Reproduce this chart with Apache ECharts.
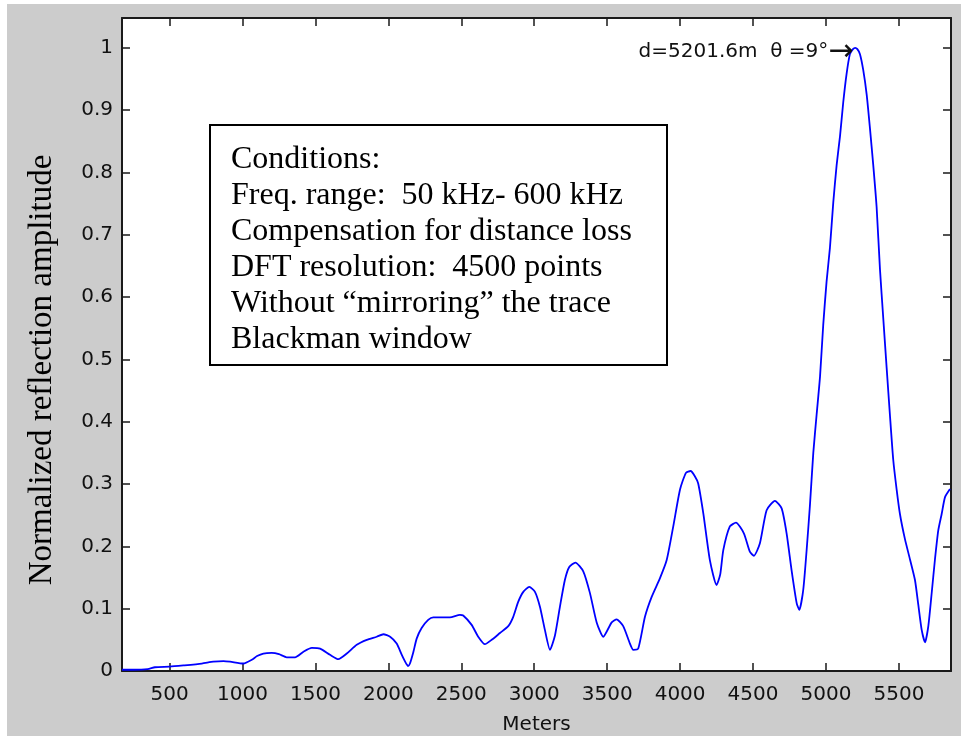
<!DOCTYPE html>
<html>
<head>
<meta charset="utf-8">
<script src="https://cdn.jsdelivr.net/npm/echarts@6/dist/echarts.min.js"></script>
<style>
html,body{margin:0;padding:0;background:#fff;}
#chart{width:961px;height:736px;}
</style>
</head>
<body>
<div id="chart"></div>
<script>
// ---- data ----
const xMeters = [174,250,350,400,500,595,721,800,870,915,1006,1064,1100,1143,1200,1250,1303,1360,1418,1475,1532,1600,1657,1715,1783,1852,1920,1966,2012,2057,2092,2115,2135,2148,2171,2194,2228,2273,2308,2422,2491,2513,2571,2616,2662,2708,2765,2822,2856,2890,2925,2966,3005,3039,3073,3108,3142,3176,3210,3240,3282,3336,3382,3428,3473,3531,3565,3610,3656,3679,3713,3759,3805,3862,3908,3953,3999,4040,4072,4100,4124,4159,4204,4250,4275,4296,4341,4383,4437,4479,4506,4547,4593,4650,4696,4730,4764,4799,4817,4844,4867,4890,4913,4936,4959,4981,5004,5027,5050,5073,5096,5118,5141,5164,5185,5200,5215,5233,5255,5279,5301,5324,5347,5370,5393,5416,5438,5461,5484,5507,5541,5576,5610,5633,5656,5679,5702,5725,5747,5770,5793,5816,5850];
const amplitude = [0.002,0.002,0.003,0.006,0.007,0.009,0.012,0.015,0.016,0.015,0.012,0.018,0.024,0.028,0.029,0.027,0.022,0.022,0.031,0.037,0.036,0.026,0.019,0.028,0.042,0.050,0.055,0.059,0.055,0.044,0.026,0.015,0.008,0.012,0.030,0.052,0.069,0.082,0.086,0.086,0.090,0.089,0.074,0.055,0.043,0.050,0.061,0.072,0.087,0.111,0.127,0.135,0.127,0.103,0.066,0.034,0.057,0.103,0.146,0.167,0.174,0.160,0.125,0.078,0.055,0.078,0.083,0.072,0.044,0.034,0.036,0.087,0.119,0.149,0.178,0.232,0.291,0.318,0.321,0.313,0.301,0.253,0.178,0.138,0.155,0.194,0.232,0.238,0.221,0.191,0.185,0.205,0.258,0.273,0.261,0.221,0.162,0.109,0.098,0.130,0.193,0.266,0.350,0.412,0.472,0.555,0.625,0.679,0.752,0.812,0.858,0.912,0.958,0.990,0.998,1.000,0.998,0.990,0.965,0.925,0.872,0.812,0.745,0.645,0.565,0.486,0.412,0.339,0.292,0.252,0.212,0.179,0.146,0.106,0.066,0.046,0.073,0.126,0.179,0.226,0.252,0.279,0.292];
const xTickValues = [500,1000,1500,2000,2500,3000,3500,4000,4500,5000,5500];
const yTickValues = [0,0.1,0.2,0.3,0.4,0.5,0.6,0.7,0.8,0.9,1];
const xRange = [174, 5857];
const yRange = [0, 1.048];
const xAxisTitle = 'Meters';
const yAxisTitle = 'Normalized reflection amplitude';
const peakPoint = [5201.6, 1.0];
const peakText = 'd=5201.6m  θ =9°';
const conditionLines = [
  'Conditions:',
  'Freq. range:  50 kHz- 600 kHz',
  'Compensation for distance loss',
  'DFT resolution:  4500 points',
  'Without \u201Cmirroring\u201D the trace',
  'Blackman window'
];

// ---- chart ----
const chart = echarts.init(document.getElementById('chart'), null, {renderer: 'canvas'});
const axisColor = '#1a1a1a';
const tickFont = {fontFamily: 'DejaVu Sans', fontSize: 20, color: '#111'};
const data = xMeters.map((x, i) => [x, amplitude[i]]);

const boxLeft = 210, boxTop = 125, boxW = 457, boxH = 240;
const lineGraphics = conditionLines.map((t, i) => ({
  type: 'text',
  x: 231,
  y: 160 + i * 36,
  z: 20,
  style: {
    text: t,
    font: '32px "Liberation Serif"',
    fill: '#000',
    textAlign: 'left',
    textVerticalAlign: 'middle'
  }
}));

chart.setOption({
  backgroundColor: '#cccccc',
  animation: false,
  grid: {left: 122, right: 10, top: 18, bottom: 65, containLabel: false, outerBoundsMode: 'none',
    show: true, backgroundColor: '#ffffff', borderWidth: 0},
  xAxis: [
    {
      type: 'value', position: 'bottom', min: xRange[0], max: xRange[1],
      axisLine: {show: true, onZero: false, lineStyle: {color: axisColor, width: 2}},
      axisTick: {show: true, inside: true, length: 8, customValues: xTickValues, lineStyle: {color: axisColor, width: 1.5}},
      axisLabel: {show: true, margin: 14, customValues: xTickValues, ...tickFont, formatter: v => String(v)},
      splitLine: {show: false},
      name: xAxisTitle, nameLocation: 'middle', nameGap: 44,
      nameTextStyle: {fontFamily: 'DejaVu Sans', fontSize: 20, color: '#111', verticalAlign: 'top'}
    },
    {
      type: 'value', position: 'top', min: xRange[0], max: xRange[1],
      axisLine: {show: true, onZero: false, lineStyle: {color: axisColor, width: 2}},
      axisTick: {show: true, inside: true, length: 8, customValues: xTickValues, lineStyle: {color: axisColor, width: 1.5}},
      axisLabel: {show: false},
      splitLine: {show: false}
    }
  ],
  yAxis: [
    {
      type: 'value', position: 'left', min: yRange[0], max: yRange[1],
      axisLine: {show: true, onZero: false, lineStyle: {color: axisColor, width: 2}},
      axisTick: {show: true, inside: true, length: 8, customValues: yTickValues, lineStyle: {color: axisColor, width: 1.5}},
      axisLabel: {show: true, margin: 9, customValues: yTickValues, ...tickFont,
        formatter: v => String(Math.round(v * 10) / 10)},
      splitLine: {show: false}
    },
    {
      type: 'value', position: 'right', min: yRange[0], max: yRange[1],
      axisLine: {show: true, onZero: false, lineStyle: {color: axisColor, width: 2}},
      axisTick: {show: true, inside: true, length: 8, customValues: yTickValues, lineStyle: {color: axisColor, width: 1.5}},
      axisLabel: {show: false},
      splitLine: {show: false}
    }
  ],
  series: [{
    type: 'line',
    xAxisIndex: 0, yAxisIndex: 0,
    data: data,
    showSymbol: false,
    smooth: 0.2,
    lineStyle: {color: '#0000ff', width: 1.8},
    itemStyle: {color: '#0000ff'},
    markPoint: {
      symbol: 'circle', symbolSize: 0,
      data: [{coord: peakPoint}],
      label: {
        show: true, position: 'left', distance: 2, offset: [0, 4],
        formatter: '{a|' + peakText + '}{b|\u2192}',
        rich: {
          a: {fontFamily: 'DejaVu Sans', fontSize: 20, color: '#111'},
          b: {fontFamily: 'DejaVu Sans', fontSize: 30, color: '#111'}
        }
      }
    }
  }],
  graphic: [
    {type: 'rect', shape: {x: 0, y: 0, width: 961, height: 4}, style: {fill: '#ffffff'}, z: 1},
    {type: 'rect', shape: {x: 0, y: 0, width: 7, height: 736}, style: {fill: '#ffffff'}, z: 1},
    {type: 'rect', shape: {x: boxLeft, y: boxTop, width: boxW, height: boxH}, style: {fill: '#ffffff', stroke: '#000', lineWidth: 2}, z: 10},
    ...lineGraphics,
    {
      type: 'text', x: 42, y: 370, rotation: Math.PI / 2, z: 10,
      style: {text: yAxisTitle, font: '33px "Liberation Serif"', fill: '#000', textAlign: 'center', textVerticalAlign: 'middle'}
    }
  ]
});
</script>
</body>
</html>
